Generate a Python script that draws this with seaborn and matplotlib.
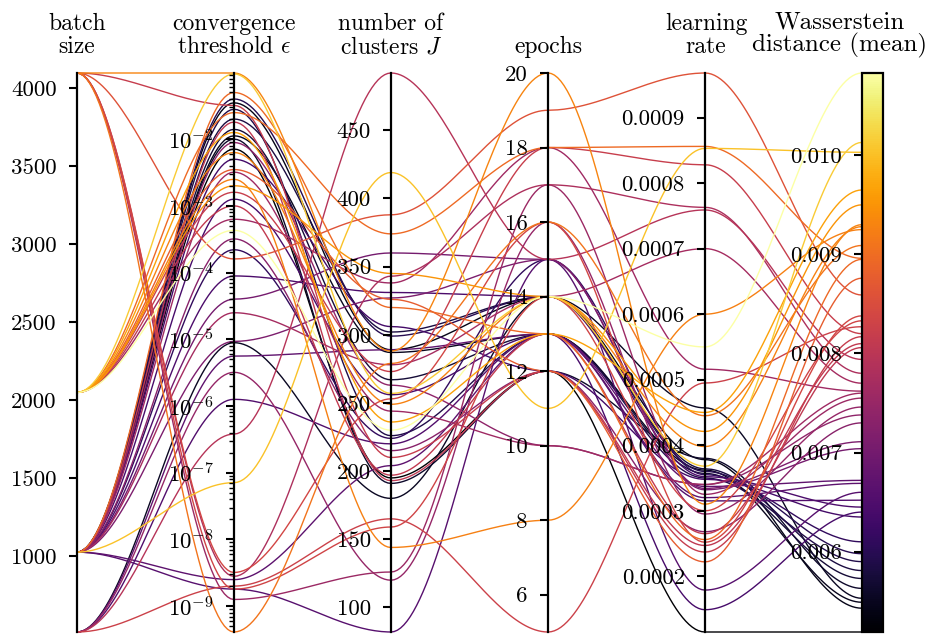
import numpy as np
import pandas as pd
import matplotlib
matplotlib.use("Agg")
import matplotlib.pyplot as plt
import matplotlib.ticker as mticker
from matplotlib.cm import ScalarMappable
from matplotlib.colors import Normalize
import seaborn as sns

# ---- hyper-parameter sweep results (one entry per run) ----
batch_size = [2048, 1024, 2048, 2048, 4096, 2048, 2048, 4096, 2048, 1024,
              2048, 4096, 4096, 512, 2048, 4096, 2048, 1024, 512, 4096,
              1024, 2048, 4096, 512, 1024, 1024, 1024, 1024, 512, 1024,
              1024, 512, 1024, 1024, 1024, 1024, 1024, 1024, 1024, 1024,
              1024, 512, 1024, 1024, 1024, 4096, 2048, 1024]
conv_threshold = [4.3e-4, 7.1e-8, 9.5e-2, 1.26e-2, 9.8e-2, 6.3e-3, 2.5e-3, 4.1e-10, 2.5e-2, 5.0e-2,
                  3.5e-3, 1.6e-4, 1.8e-9, 2.0e-9, 1.6e-3, 3.2e-2, 1.0e-3, 1.8e-2, 3.8e-7, 2.8e-9,
                  2.5e-5, 6.3e-4, 1.26e-9, 3.2e-6, 8.9e-3, 3.2e-4, 9.3e-6, 4.0e-5, 5.6e-6, 2.5e-9,
                  1.8e-9, 1.26e-6, 8.9e-5, 1.26e-3, 5.0e-3, 2.2e-4, 4.0e-2, 2.8e-2, 2.0e-2, 1.4e-2,
                  1.0e-2, 8.9e-6, 1.12e-2, 7.1e-3, 3.5e-2, 3.2e-9, 2.0e-3, 3.2e-3]
n_clusters = [230, 419, 257, 236, 288, 249, 144, 279, 374, 320,
              326, 388, 159, 165, 273, 210, 197, 193, 492, 343,
              278, 338, 126, 120, 263, 215, 327, 360, 289, 204,
              82, 220, 331, 256, 306, 224, 299, 226, 302, 267,
              191, 180, 287, 195, 289, 253, 345, 244]
epochs = [14, 11, 14, 13, 20, 14, 8, 16, 18, 13,
          12, 19, 14, 5, 18, 12, 13, 12, 15, 17,
          14, 18, 17, 16, 10, 12, 15, 15, 13, 13,
          15, 13, 14, 13, 12, 15, 14, 13, 14, 13,
          12, 14, 13, 12, 14, 16, 14, 10]
learning_rate = [0.000550, 0.000853, 0.000368, 0.000450, 0.000310, 0.000398, 0.000600, 0.000445, 0.000856, 0.000256,
                 0.000222, 0.000968, 0.000300, 0.000495, 0.000828, 0.000237, 0.000265, 0.000247, 0.000759, 0.000763,
                 0.000700, 0.000516, 0.000325, 0.000295, 0.000340, 0.000268, 0.000334, 0.000332, 0.000337, 0.000320,
                 0.000179, 0.000315, 0.000352, 0.000149, 0.000348, 0.000355, 0.000360, 0.000350, 0.000364, 0.000357,
                 0.000380, 0.000457, 0.000362, 0.000115, 0.000378, 0.000252, 0.000421, 0.000340]
wasserstein = [0.01083, 0.01003, 0.01013, 0.00965, 0.00930, 0.00928, 0.00925, 0.00909, 0.00896, 0.00895,
               0.00876, 0.00859, 0.00833, 0.00827, 0.00820, 0.00817, 0.00810, 0.00806, 0.00794, 0.00780,
               0.00770, 0.00762, 0.00755, 0.00746, 0.00738, 0.00730, 0.00711, 0.00704, 0.00672, 0.00669,
               0.00660, 0.00652, 0.00645, 0.00640, 0.00635, 0.00610, 0.00598, 0.00590, 0.00581, 0.00573,
               0.00563, 0.00553, 0.00549, 0.00519, 0.00543, 0.00838, 0.00950, 0.00760]

axis_titles = ["batch\nsize", "convergence\nthreshold $\\epsilon$", "number of\nclusters $J$",
               "epochs", "learning\nrate", "Wasserstein\ndistance (mean)"]

sns.set_style("white")
plt.rcParams.update({
    "font.family": ["cmr10", "DejaVu Serif"],
    "mathtext.fontset": "cm",
    "axes.formatter.use_mathtext": True,
    "axes.unicode_minus": False,
    "text.color": "black",
    "axes.edgecolor": "black",
    "ytick.color": "black",
    "axes.labelcolor": "black",
})

W, H = 952, 634
fig = plt.figure(figsize=(W / 100, H / 100), dpi=100)
left, right = 77 / W, 862 / W
bottom, top = 1 - 632 / H, 1 - 73 / H
host = fig.add_axes([left, bottom, right - left, top - bottom])
host.set_xlim(0, 5)
host.set_ylim(0, 1)
host.axis("off")

cols = [np.asarray(batch_size, float), np.log10(conv_threshold), np.asarray(n_clusters, float),
        np.asarray(epochs, float), np.asarray(learning_rate, float), np.asarray(wasserstein, float)]
lims = [(c.min(), c.max()) for c in cols]
norm_cols = [(c - lo) / (hi - lo) for c, (lo, hi) in zip(cols, lims)]
wlo, whi = lims[5]

# smooth curves with flat tangents at every axis
t = np.linspace(0, 1, 50)
s = 3 * t ** 2 - 2 * t ** 3
frames = []
for k in range(len(batch_size)):
    ys = [nc[k] for nc in norm_cols]
    xs_all, ys_all = [], []
    for i in range(5):
        xs_all.append(i + t)
        ys_all.append(ys[i] + (ys[i + 1] - ys[i]) * s)
    frames.append(pd.DataFrame({"x": np.concatenate(xs_all), "y": np.concatenate(ys_all),
                                "run": k, "w": wasserstein[k]}))
df = pd.concat(frames, ignore_index=True)

cmap = sns.color_palette("inferno", as_cmap=True)
sns.lineplot(data=df, x="x", y="y", hue="w", units="run", estimator=None, sort=False,
             palette=cmap, hue_norm=(wlo, whi), legend=False, linewidth=1.0, ax=host)
for ln in host.lines:
    ln.set_clip_on(False)

tick_kw = dict(axis="y", which="major", direction="out", length=6, width=1.5, pad=8.5,
               labelsize=16.5, left=True, right=False, colors="black")

for i in range(5):
    ax = host.twinx()
    for side in ("top", "bottom", "right"):
        ax.spines[side].set_visible(False)
    ax.spines["left"].set_visible(True)
    ax.spines["left"].set_position(("axes", i / 5))
    ax.spines["left"].set_linewidth(1.6)
    ax.spines["left"].set_color("black")
    ax.yaxis.set_ticks_position("left")
    ax.yaxis.set_label_position("left")
    lo, hi = lims[i]
    if i == 1:
        ax.set_yscale("log")
        ax.set_ylim(10 ** lo, 10 ** hi)
        decades = np.arange(np.ceil(lo), np.floor(hi) + 1)
        ax.yaxis.set_major_locator(mticker.FixedLocator(10.0 ** decades))
        minors = [m * 10.0 ** d for d in np.arange(np.floor(lo), np.ceil(hi))
                  for m in range(2, 10) if lo <= np.log10(m * 10.0 ** d) <= hi]
        ax.yaxis.set_minor_locator(mticker.FixedLocator(minors))
        ax.yaxis.set_major_formatter(mticker.LogFormatterSciNotation())
        ax.yaxis.set_minor_formatter(mticker.NullFormatter())
        ax.tick_params(axis="y", which="minor", direction="out", length=3.5, width=1.0,
                       left=True, right=False, colors="black")
    else:
        ax.set_ylim(lo, hi)
        if i == 0:
            ax.yaxis.set_major_locator(mticker.MultipleLocator(500))
            ax.yaxis.set_major_formatter(mticker.FormatStrFormatter("%d"))
        elif i == 2:
            ax.yaxis.set_major_locator(mticker.MultipleLocator(50))
            ax.yaxis.set_major_formatter(mticker.FormatStrFormatter("%d"))
        elif i == 3:
            ax.yaxis.set_major_locator(mticker.MultipleLocator(2))
            ax.yaxis.set_major_formatter(mticker.FormatStrFormatter("%d"))
        else:
            ax.yaxis.set_major_locator(mticker.FixedLocator([0.0002, 0.0003, 0.0004, 0.0005,
                                                             0.0006, 0.0007, 0.0008, 0.0009]))
            ax.yaxis.set_major_formatter(mticker.FormatStrFormatter("%.4f"))
        ax.yaxis.set_minor_locator(mticker.NullLocator())
    ax.tick_params(**tick_kw)

# colour bar acting as the last axis
cax = fig.add_axes([862 / W, bottom, 21 / W, top - bottom])
sm = ScalarMappable(norm=Normalize(wlo, whi), cmap=cmap)
cb = fig.colorbar(sm, cax=cax)
cb.set_ticks([0.006, 0.007, 0.008, 0.009, 0.010])
cax.yaxis.set_major_formatter(mticker.FormatStrFormatter("%.3f"))
cax.yaxis.set_ticks_position("left")
cax.minorticks_off()
cax.tick_params(**tick_kw)
cb.outline.set_linewidth(1.6)
cb.outline.set_edgecolor("black")

title_x = [77, 234, 391, 548, 706, 840]
title_size = [17, 17, 17, 17, 17, 18]
for xp, fs, label in zip(title_x, title_size, axis_titles):
    fig.text(xp / W, 1 - 58 / H, label, ha="center", va="bottom", fontsize=fs,
             linespacing=1.05 * 17 / fs, multialignment="center")

fig.savefig("out.png", dpi=100)
